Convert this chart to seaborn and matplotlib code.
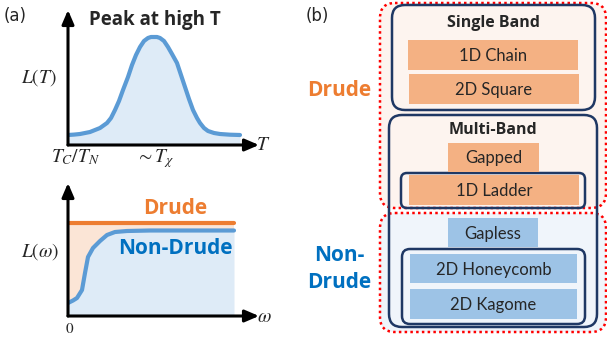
import numpy as np
import pandas as pd
import matplotlib
matplotlib.use("Agg")
import matplotlib.pyplot as plt
from matplotlib.patches import FancyBboxPatch
import seaborn as sns

sns.set_theme(style="white")
plt.rcParams["font.family"] = ["Lato", "DejaVu Sans"]
plt.rcParams["mathtext.fontset"] = "stix"

# ---- panel (a), top: thermal response L(T) ----
temp_T = [0, 6, 12, 22, 32, 39, 43, 47, 51, 55, 60, 64, 68, 72, 76, 80, 83, 86,
          89, 92, 96, 100, 104, 109, 113, 117, 121, 125, 129, 132, 136, 140, 146, 152, 162, 172]
temp_L = [10, 10.4, 11, 13, 17, 22, 27, 35, 44, 55, 68, 80, 90, 98, 104, 107, 108, 108,
          108, 107, 104, 98, 91, 82, 70, 58, 46, 35, 27, 22, 17, 14, 12, 11, 10.3, 10]

# ---- panel (a), bottom: frequency response L(omega) ----
freq_w = [0, 5, 9, 14, 17, 20, 25, 32, 39, 47, 59, 82, 166]
nondrude_L = [13, 15.5, 18, 26, 43, 59, 68, 75, 81, 84, 85, 85.5, 85.5]
drude_w = [0, 166]
drude_L = [93, 93]

# ---- panel (b): classification ----
single_band = ["1D Chain", "2D Square"]
gapped = ["Gapped", "1D Ladder"]
gapless = ["Gapless", "2D Honeycomb", "2D Kagome"]

BLUE_LINE = "#5b9bd5"
BLUE_FILL = "#deebf7"
ORANGE = "#ed7d31"
ORANGE_FILL = "#fbe5d6"
NAVY = "#1f3864"
BAR_OR = "#f4b183"
BAR_BL = "#9dc3e6"
TEXT_BL = "#0070c0"
BOLD_FONT = ["Open Sans", "DejaVu Sans"]

W, H = 607, 339
fig = plt.figure(figsize=(W / 100, H / 100), dpi=100)


def px_axes(x0, y0, x1, y1):
    return fig.add_axes([x0 / W, 1 - y1 / H, (x1 - x0) / W, (y1 - y0) / H])


def arrow_axes(ax):
    for s in ax.spines.values():
        s.set_visible(False)
    ax.set_xticks([])
    ax.set_yticks([])
    ax.set_facecolor("none")
    kw = dict(arrowstyle="-|>,head_length=0.7,head_width=0.3", lw=2.2, color="black",
              shrinkA=0, shrinkB=0)
    ax.annotate("", xy=(1.0, 0), xytext=(0, 0), xycoords="axes fraction", arrowprops=kw,
                annotation_clip=False)
    ax.annotate("", xy=(0, 1.0), xytext=(0, 0), xycoords="axes fraction", arrowprops=kw,
                annotation_clip=False)


# top plot
ax1 = px_axes(68, 10, 259, 145)
df_T = pd.DataFrame({"T": temp_T, "L": temp_L})
ax1.fill_between(df_T["T"], 0, df_T["L"], color=BLUE_FILL, lw=0)
sns.lineplot(data=df_T, x="T", y="L", ax=ax1, color=BLUE_LINE, lw=3, sort=False)
ax1.set_xlim(0, 191)
ax1.set_ylim(0, 135)
ax1.set_xlabel("")
ax1.set_ylabel("")
arrow_axes(ax1)

# bottom plot
ax2 = px_axes(68, 183, 259, 316)
df_w = pd.DataFrame({"w": freq_w, "L": nondrude_L})
ax2.fill_between(drude_w, 0, drude_L, color=ORANGE_FILL, lw=0)
ax2.fill_between(df_w["w"], 0, df_w["L"], color=BLUE_FILL, lw=0)
sns.lineplot(x=drude_w, y=drude_L, ax=ax2, color=ORANGE, lw=3)
sns.lineplot(data=df_w, x="w", y="L", ax=ax2, color=BLUE_LINE, lw=3, sort=False)
ax2.set_xlim(0, 191)
ax2.set_ylim(0, 133)
ax2.set_xlabel("")
ax2.set_ylabel("")
arrow_axes(ax2)

# overlay in pixel coordinates
ov = fig.add_axes([0, 0, 1, 1])
ov.set_xlim(0, W)
ov.set_ylim(H, 0)
ov.axis("off")

# texts of panel (a)
ov.text(4, 16, "(a)", fontsize=12, va="center", ha="left", family="DejaVu Sans")
ov.text(155, 20, "Peak at high T", fontsize=13.5, fontweight="bold", ha="center", va="center",
        family=BOLD_FONT)
ov.text(39, 78, r"$L(T)$", fontsize=14, ha="center", va="center")
ov.text(263, 145, r"$T$", fontsize=14, ha="center", va="center")
ov.text(76, 157, r"$T_C/T_N$", fontsize=14, ha="center", va="center")
ov.text(155, 159, r"$\sim T_\chi$", fontsize=14, ha="center", va="center")
ov.text(175, 209, "Drude", fontsize=15, fontweight="bold", color=ORANGE, ha="center", va="center",
        family=BOLD_FONT)
ov.text(175, 248, "Non-Drude", fontsize=15, fontweight="bold", color=TEXT_BL, ha="center",
        va="center", family=BOLD_FONT)
ov.text(40, 252, r"$L(\omega)$", fontsize=14, ha="center", va="center")
ov.text(264, 316, r"$\omega$", fontsize=14, ha="center", va="center")
ov.text(70, 329, r"$0$", fontsize=11, ha="center", va="center")

# panel (b)
ov.text(306, 16, "(b)", fontsize=12, va="center", ha="left", family="DejaVu Sans")


def rbox(x0, y0, x1, y1, r, **kw):
    p = FancyBboxPatch((x0, y0), x1 - x0, y1 - y0, boxstyle=f"round,pad=0,rounding_size={r}", **kw)
    ov.add_patch(p)


# outer dotted regions
rbox(380, 3, 606, 208, 15, fc="#fdf4ef", ec="red", lw=1.8, ls=(0, (1, 1.3)))
rbox(380, 213, 606, 332, 15, fc="#f0f5fb", ec="red", lw=1.8, ls=(0, (1, 1.3)))

# band boxes
rbox(392, 5, 595, 110, 13, fc="none", ec=NAVY, lw=1.8)
rbox(389, 115, 597, 327, 13, fc="none", ec=NAVY, lw=1.8)
rbox(401, 173, 585, 208, 6, fc="none", ec=NAVY, lw=1.8)
rbox(402, 249, 585, 324, 8, fc="none", ec=NAVY, lw=1.8)

ov.text(493, 23, "Single Band", fontsize=11.5, fontweight="bold", ha="center", va="center",
        family=BOLD_FONT)
ov.text(493, 130, "Multi-Band", fontsize=11.5, fontweight="bold", ha="center", va="center",
        family=BOLD_FONT)

# labelled bars: (label, x0, y0, x1, y1, colour)
bars = [
    (single_band[0], 408, 40, 578, 70, BAR_OR),
    (single_band[1], 409, 74, 579, 104, BAR_OR),
    (gapped[0], 448, 143, 539, 172, BAR_OR),
    (gapped[1], 409, 175, 579, 205, BAR_OR),
    (gapless[0], 448, 218, 538, 247, BAR_BL),
    (gapless[1], 410, 254, 577, 283, BAR_BL),
    (gapless[2], 410, 289, 577, 319, BAR_BL),
]
for lab, x0, y0, x1, y1, c in bars:
    ov.add_patch(plt.Rectangle((x0, y0), x1 - x0, y1 - y0, fc=c, ec="none"))
    ov.text((x0 + x1) / 2, (y0 + y1) / 2 + 1, lab, fontsize=12, ha="center", va="center")

ov.text(339, 91, "Drude", fontsize=15, fontweight="bold", color=ORANGE, ha="center", va="center",
        family=BOLD_FONT)
ov.text(339, 269, "Non-\nDrude", fontsize=15, fontweight="bold", color=TEXT_BL,
        ha="center", va="center", linespacing=1.4, family=BOLD_FONT)

fig.savefig("out.png", dpi=100)
